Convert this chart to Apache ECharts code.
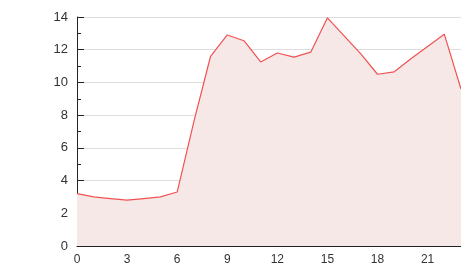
<!DOCTYPE html>
<html>
<head>
<meta charset="utf-8">
<style>
html,body{margin:0;padding:0;background:#fff;}
#chart{width:461px;height:279px;}
</style>
<script src="https://cdn.jsdelivr.net/npm/echarts@6/dist/echarts.min.js"></script>
</head>
<body>
<div id="chart"></div>
<script>
const categories = ["0","1","2","3","4","5","6","7","8","9","10","11","12","13","14","15","16","17","18","19","20","21","22","23"];
const values = [3.2, 3.0, 2.9, 2.8, 2.9, 3.0, 3.3, 7.6, 11.6, 12.9, 12.55, 11.25, 11.8, 11.55, 11.85, 13.95, 12.85, 11.75, 10.5, 10.65, 11.45, 12.2, 12.95, 9.6];
const yTicks = { min: 0, max: 14, interval: 2 };

const chart = echarts.init(document.getElementById('chart'), null, {renderer: 'canvas'});
chart.setOption({
  animation: false,
  grid: { left: 77, right: 0, top: 17, bottom: 33, containLabel: false },
  xAxis: {
    type: 'category',
    data: categories,
    boundaryGap: false,
    axisLine: { show: true, lineStyle: { color: '#222', width: 1 } },
    axisTick: { show: true, inside: true, length: 5, lineStyle: { color: '#222' } },
    axisLabel: { color: '#333', fontFamily: 'Liberation Sans, Arial, sans-serif', fontSize: 12, interval: 2 },
    splitLine: { show: false }
  },
  yAxis: {
    type: 'value',
    min: yTicks.min,
    max: yTicks.max,
    interval: yTicks.interval,
    axisLine: { show: true, lineStyle: { color: '#222', width: 1 } },
    axisTick: { show: true, inside: true, length: 7, lineStyle: { color: '#222' } },
    minorTick: { show: true, splitNumber: 2, length: 4, lineStyle: { color: '#222' } },
    axisLabel: { color: '#333', fontFamily: 'Liberation Sans, Arial, sans-serif', fontSize: 13, margin: 9 },
    splitLine: { show: true, lineStyle: { color: '#dddddd', width: 1 } }
  },
  series: [{
    type: 'line',
    data: values,
    symbol: 'none',
    lineStyle: { color: '#f05252', width: 1.2 },
    itemStyle: { color: '#f05252' },
    areaStyle: { color: '#f7e8e8', opacity: 1 }
  }]
});
</script>
</body>
</html>
